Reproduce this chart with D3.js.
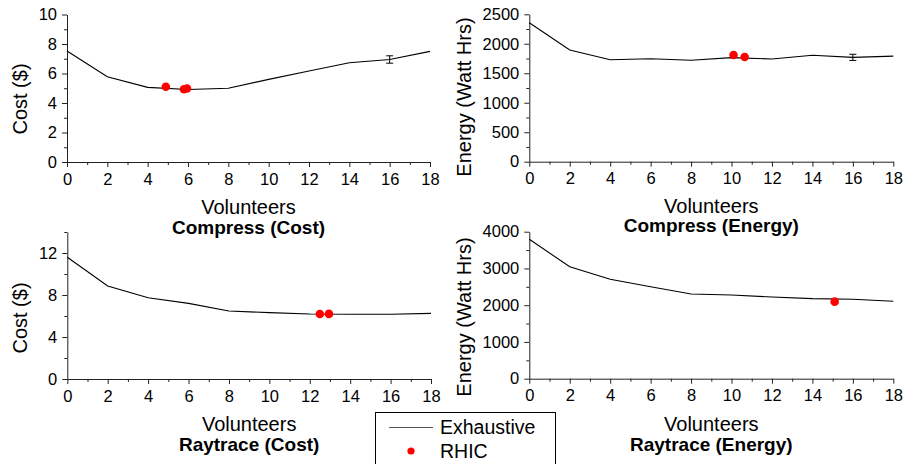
<!DOCTYPE html>
<html>
<head>
<meta charset="utf-8">
<script src="https://cdn.jsdelivr.net/npm/d3@7"></script>
<style>
  body { margin: 0; background: #fff; }
  svg { font-family: "Liberation Sans", Arial, sans-serif; }
</style>
</head>
<body>
<svg width="904" height="464"></svg>
<script>
// x values shared by all exhaustive runs
const volunteers = [0, 2, 4, 6, 8, 10, 12, 14, 16, 18];

const compressCost = [7.53, 5.78, 5.06, 4.92, 5.0, 5.6, 6.17, 6.73, 6.95, 7.5];
const compressEnergy = [2357, 1895, 1730, 1747, 1720, 1765, 1742, 1805, 1770, 1790];
const raytraceCost = [11.6, 8.86, 7.74, 7.2, 6.48, 6.32, 6.19, 6.16, 6.16, 6.25];
const raytraceEnergy = [3793, 3048, 2705, 2503, 2305, 2278, 2224, 2178, 2160, 2106];

// RHIC results
const compressCostRhicX = [4.9, 5.8, 5.95];
const compressCostRhicY = [5.1, 4.93, 4.98];
const compressEnergyRhicX = [10.1, 10.65];
const compressEnergyRhicY = [1810, 1776];
const raytraceCostRhicX = [12.5, 12.95];
const raytraceCostRhicY = [6.19, 6.2];
const raytraceEnergyRhicX = [15.1];
const raytraceEnergyRhicY = [2097];

// error bar at x = 16 (half widths)
const compressCostErr = 0.25;
const compressEnergyErr = 52;

const xTicks = [0, 2, 4, 6, 8, 10, 12, 14, 16, 18];
const xMinor = [1, 3, 5, 7, 9, 11, 13, 15, 17];

const svg = d3.select('svg');

const panels = [
  { title: 'Compress (Cost)', yLabel: 'Cost ($)', line: compressCost,
    rx: compressCostRhicX, ry: compressCostRhicY, err: compressCostErr,
    yMax: 10, yTicks: [0, 2, 4, 6, 8, 10], yMinor: [1, 3, 5, 7, 9],
    left: 67, right: 430, top: 14.5, bottom: 162, yLabX: 27, yLabY: 99,
    volY: 214, titleY: 234 },
  { title: 'Compress (Energy)', yLabel: 'Energy (Watt Hrs)', line: compressEnergy,
    rx: compressEnergyRhicX, ry: compressEnergyRhicY, err: compressEnergyErr,
    yMax: 2500, yTicks: [0, 500, 1000, 1500, 2000, 2500], yMinor: [250, 750, 1250, 1750, 2250],
    left: 529.3, right: 893.3, top: 14.3, bottom: 161.7, yLabX: 471, yLabY: 97,
    volY: 213, titleY: 232 },
  { title: 'Raytrace (Cost)', yLabel: 'Cost ($)', line: raytraceCost,
    rx: raytraceCostRhicX, ry: raytraceCostRhicY, err: null,
    yMax: 14, yTicks: [0, 4, 8, 12], yMinor: [2, 6, 10, 14],
    left: 67.3, right: 431, top: 232, bottom: 379, yLabX: 27, yLabY: 318,
    volY: 431, titleY: 451 },
  { title: 'Raytrace (Energy)', yLabel: 'Energy (Watt Hrs)', line: raytraceEnergy,
    rx: raytraceEnergyRhicX, ry: raytraceEnergyRhicY, err: null,
    yMax: 4000, yTicks: [0, 1000, 2000, 3000, 4000], yMinor: [500, 1500, 2500, 3500],
    left: 529.3, right: 893.3, top: 231.7, bottom: 378.7, yLabX: 471, yLabY: 317,
    volY: 431, titleY: 451 }
];

panels.forEach(p => {
  const x = d3.scaleLinear().domain([0, 18]).range([p.left, p.right]);
  const y = d3.scaleLinear().domain([0, p.yMax]).range([p.bottom, p.top]);
  const g = svg.append('g');

  // minor ticks first
  g.append('g').attr('transform', `translate(0,${p.bottom})`)
    .call(d3.axisBottom(x).tickValues(xMinor).tickSize(3).tickFormat('').tickSizeOuter(0))
    .call(a => a.select('.domain').remove());
  g.append('g').attr('transform', `translate(${p.left},0)`)
    .call(d3.axisLeft(y).tickValues(p.yMinor).tickSize(3).tickFormat('').tickSizeOuter(0))
    .call(a => a.select('.domain').remove());

  const xAxis = g.append('g').attr('transform', `translate(0,${p.bottom})`)
    .call(d3.axisBottom(x).tickValues(xTicks).tickFormat(d3.format('d'))
      .tickSize(5).tickPadding(6).tickSizeOuter(0));
  const yAxis = g.append('g').attr('transform', `translate(${p.left},0)`)
    .call(d3.axisLeft(y).tickValues(p.yTicks).tickFormat(d3.format('d'))
      .tickSize(5).tickPadding(5).tickSizeOuter(0));
  [xAxis, yAxis].forEach(a => a.selectAll('text').attr('font-size', 16.5).attr('fill', '#000')
    .attr('font-family', '"Liberation Sans", Arial, sans-serif'));
  g.selectAll('.tick line, .domain').attr('stroke', '#222');

  g.append('path').datum(volunteers)
    .attr('fill', 'none').attr('stroke', '#000').attr('stroke-width', 1.1)
    .attr('d', d3.line().x(d => x(d)).y((d, i) => y(p.line[i])));

  if (p.err !== null) {
    const i = volunteers.indexOf(16);
    const v = p.line[i];
    const eb = g.append('g').attr('stroke', '#000').attr('stroke-width', 1);
    eb.append('line').attr('x1', x(16)).attr('x2', x(16)).attr('y1', y(v - p.err)).attr('y2', y(v + p.err));
    [v - p.err, v + p.err].forEach(e => eb.append('line')
      .attr('x1', x(16) - 3.5).attr('x2', x(16) + 3.5).attr('y1', y(e)).attr('y2', y(e)));
  }

  g.selectAll('circle.rhic').data(p.rx).enter().append('circle')
    .attr('cx', d => x(d)).attr('cy', (d, i) => y(p.ry[i]))
    .attr('r', 4.3).attr('fill', '#ff0000');

  const cx = (p.left + p.right) / 2;
  g.append('text').attr('x', cx).attr('y', p.volY).attr('text-anchor', 'middle')
    .attr('font-size', 20).text('Volunteers');
  g.append('text').attr('x', cx).attr('y', p.titleY).attr('text-anchor', 'middle')
    .attr('font-size', 19).attr('font-weight', 'bold').text(p.title);
  g.append('text').attr('transform', `translate(${p.yLabX},${p.yLabY}) rotate(-90)`)
    .attr('text-anchor', 'middle').attr('font-size', 20).text(p.yLabel);
});

// legend
const leg = svg.append('g');
leg.append('rect').attr('x', 375.5).attr('y', 412.5).attr('width', 180).attr('height', 60)
  .attr('fill', '#fff').attr('stroke', '#000').attr('stroke-width', 1);
leg.append('line').attr('x1', 389).attr('x2', 433).attr('y1', 427.5).attr('y2', 427.5)
  .attr('stroke', '#555').attr('stroke-width', 1.2);
leg.append('text').attr('x', 440).attr('y', 434).attr('font-size', 19.5).text('Exhaustive');
leg.append('circle').attr('cx', 411).attr('cy', 451).attr('r', 3.6).attr('fill', '#ff0000');
leg.append('text').attr('x', 440).attr('y', 458).attr('font-size', 19.5).text('RHIC');
</script>
</body>
</html>
